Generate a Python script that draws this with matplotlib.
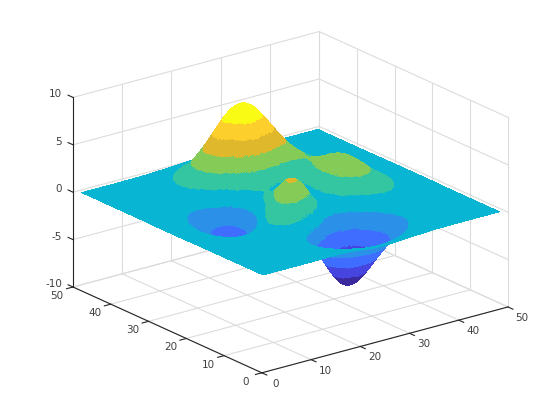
import matplotlib
matplotlib.use("Agg")
import matplotlib.pyplot as plt
import matplotlib.tri as mtri
from matplotlib.colors import BoundaryNorm, ListedColormap
import numpy as np
from mpl_toolkits.mplot3d import proj3d

# surface heights, one row per y value
grid_vals = [1, 4, 7, 10, 13, 16, 19, 22, 25, 28, 31, 34, 37, 40, 43, 46, 49]
z_rows = [
    [0, 0, 0, 0, .02, .04, -.02, -.2, -.3, -.26, -.17, -.08, -.03, -.01, 0, 0, 0],
    [0, 0, 0, .05, 0, -.1, -.35, -.75, -1.05, -1.0, -.7, -.35, -.13, -.03, 0, 0, 0],
    [0, 0, .02, .05, .03, -.23, -.98, -2.14, -3.0, -2.96, -2.06, -1.03, -.37, -.11, -.02, 0, 0],
    [0, .01, .05, .13, .19, -.18, -1.5, -3.72, -5.5, -5.53, -3.88, -1.94, -.68, -.18, -.04, 0, 0],
    [0, .02, .04, .15, .36, .37, -.64, -3.09, -5.67, -6.18, -4.32, -1.89, -.44, 0, .01, 0, 0],
    [0, -.01, -.03, .02, .42, 1.29, 1.73, .43, -2.16, -3.47, -2.36, -.47, .46, .44, .19, .05, .01],
    [-.01, -.08, -.25, -.49, -.3, 1.1, 3.09, 3.5, 1.4, -.37, .19, 1.55, 1.77, 1.09, .42, .12, .03],
    [-.03, -.15, -.52, -1.23, -1.7, -.64, 1.9, 3.25, 1.86, .43, 1.36, 2.92, 2.85, 1.68, .62, .16, .03],
    [-.03, -.2, -.69, -1.74, -2.77, -2.3, .07, 1.77, .98, .13, 1.57, 3.37, 3.26, 1.88, .69, .18, .03],
    [-.03, -.17, -.63, -1.62, -2.73, -2.6, -.78, .77, .4, 0, 1.39, 2.94, 2.8, 1.62, .6, .16, .03],
    [-.02, -.11, -.42, -1.06, -1.76, -1.56, -.03, 1.39, 1.42, 1.07, 1.65, 2.3, 1.99, 1.1, .4, .1, .02],
    [0, -.05, -.18, -.41, -.44, .4, 2.42, 4.45, 5.08, 4.37, 3.33, 2.38, 1.45, .67, .23, .05, .01],
    [0, 0, -.02, .04, .47, 1.87, 4.37, 6.94, 8.0, 6.92, 4.72, 2.61, 1.18, .44, .13, .03, 0],
    [0, 0, .02, .15, .62, 1.85, 3.88, 5.99, 6.9, 5.98, 3.97, 2.05, .82, .26, .06, .01, 0],
    [0, 0, .02, .1, .37, 1.0, 2.07, 3.17, 3.65, 3.17, 2.08, 1.05, .39, .11, .02, 0, 0],
    [0, 0, 0, .03, .13, .35, .72, 1.09, 1.26, 1.09, .72, .35, .13, .03, 0, 0, 0],
    [0, 0, 0, .01, .03, .08, .17, .26, .3, .26, .17, .08, .03, .01, 0, 0, 0],
]
band_edges = [-9, -5.09, -3.63, -2.17, -0.71, 0.75, 2.21, 3.67, 5.13, 6.59, 9]
band_colors = ["#3b2a9e", "#4645e0", "#3f6dff", "#2b90e8", "#08b6d3",
               "#33c6a0", "#84cb58", "#dfb82c", "#fdcf2c", "#f9fb15"]
xy_ticks = [0, 10, 20, 30, 40, 50]
z_ticks = [-10, -5, 0, 5, 10]

grid_col = "#dcdcdc"
axis_col = "#262626"
text_col = "#404040"

fig = plt.figure(figsize=(5.6, 4.2), dpi=100)
ax = fig.add_axes([0.1, 0, 0.75, 1], projection="3d", computed_zorder=False)
ax.set_proj_type("ortho")
ax.view_init(elev=20.4, azim=-127.5)
ax.set_box_aspect((1, 1, 0.652))
ax.set_axis_off()

# back walls and floor
for t in xy_ticks:
    ax.plot([t, t], [50, 50], [-10, 10], color=grid_col, lw=0.8, zorder=1)
    ax.plot([50, 50], [t, t], [-10, 10], color=grid_col, lw=0.8, zorder=1)
    ax.plot([t, t], [0, 50], [-10, -10], color=grid_col, lw=0.8, zorder=1)
    ax.plot([0, 50], [t, t], [-10, -10], color=grid_col, lw=0.8, zorder=1)
for t in z_ticks:
    ax.plot([0, 50], [50, 50], [t, t], color=grid_col, lw=0.8, zorder=1)
    ax.plot([50, 50], [0, 50], [t, t], color=grid_col, lw=0.8, zorder=1)

# surface coloured in flat bands
gx, gy = np.meshgrid(grid_vals, grid_vals)
tri = mtri.Triangulation(gx.ravel(), gy.ravel())
refiner = mtri.UniformTriRefiner(tri)
tri_fine, z_fine = refiner.refine_field(np.array(z_rows, dtype=float).ravel(), subdiv=4)
ax.plot_trisurf(tri_fine, z_fine, cmap=ListedColormap(band_colors),
                norm=BoundaryNorm(band_edges, len(band_colors)),
                linewidth=0, antialiased=False, shade=False, zorder=5)

# axis lines and ticks
ax.plot([0, 50], [0, 0], [-10, -10], color=axis_col, lw=0.8, zorder=20)
ax.plot([0, 0], [0, 50], [-10, -10], color=axis_col, lw=0.8, zorder=20)
ax.plot([0, 0], [50, 50], [-10, 10], color=axis_col, lw=0.8, zorder=20)
for t in xy_ticks:
    ax.plot([t, t], [0, -1.3], [-10, -10], color=axis_col, lw=0.8, zorder=20)
    ax.plot([0, -1.3], [t, t], [-10, -10], color=axis_col, lw=0.8, zorder=20)
for t in z_ticks:
    ax.plot([0, 0], [50, 51.3], [t, t], color=axis_col, lw=0.8, zorder=20)
ax.set_xlim(0, 50)
ax.set_ylim(0, 50)
ax.set_zlim(-10, 10)


def to_view(x, y, z):
    vx, vy, _ = proj3d.proj_transform(x, y, z, ax.get_proj())
    return vx, vy


# fit the box onto the reference corners (0,50,-10) -> (73,287), (50,0,-10) -> (508,307)
fa = ax.transLimits.transform(to_view(0, 50, -10))
fb = ax.transLimits.transform(to_view(50, 0, -10))
side = (508 - 73) / (fb[0] - fa[0])
ax.set_position([(73 - side * fa[0]) / 560, (420 - 287 - side * fa[1]) / 420,
                 side / 560, side / 420])

for t in xy_ticks:
    ax.annotate(str(t), to_view(t, 0, -10), xytext=(14, -11), textcoords="offset pixels",
                ha="center", va="center", fontsize=7.5, color=text_col, annotation_clip=False)
    ax.annotate(str(t), to_view(0, t, -10), xytext=(-16, -9), textcoords="offset pixels",
                ha="center", va="center", fontsize=7.5, color=text_col, annotation_clip=False)
for t in z_ticks:
    ax.annotate(str(t), to_view(0, 50, t), xytext=(-11, 3), textcoords="offset pixels",
                ha="right", va="center", fontsize=7.5, color=text_col, annotation_clip=False)

fig.savefig("out.png", dpi=100)
